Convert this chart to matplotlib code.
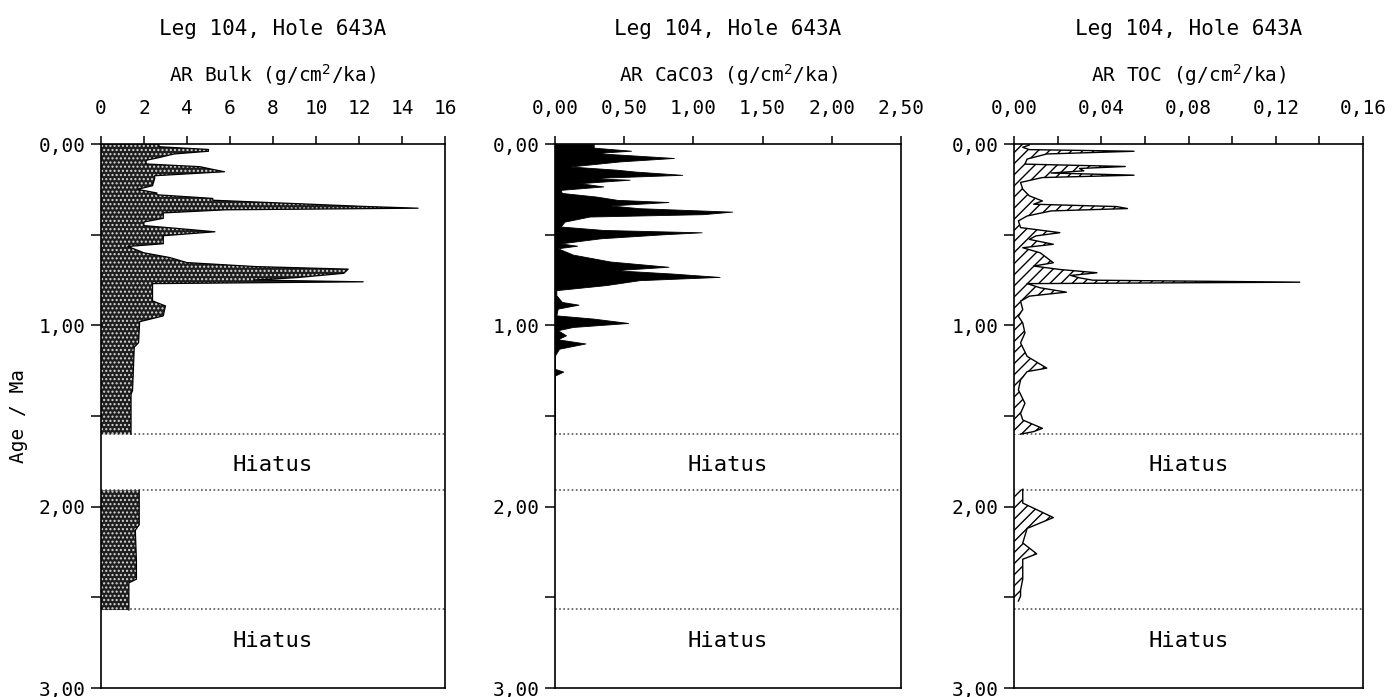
import numpy as np
import matplotlib.pyplot as plt
from matplotlib.ticker import FuncFormatter, MultipleLocator

plt.rcParams['font.family'] = ['DejaVu Sans Mono']
plt.rcParams['hatch.linewidth'] = 1.0

# AR Bulk (g/cm2/ka), age in Ma
bulk_age1 = [0.0, 0.015, 0.03, 0.04, 0.055, 0.075, 0.09, 0.11, 0.125, 0.14, 0.153, 0.175, 0.19,
             0.23, 0.25, 0.27, 0.28, 0.30, 0.31, 0.326, 0.344, 0.354, 0.363, 0.38, 0.41, 0.43,
             0.45, 0.465, 0.484, 0.506, 0.55, 0.565, 0.60, 0.626, 0.654, 0.676, 0.69, 0.713,
             0.737, 0.75, 0.76, 0.77, 0.80, 0.865, 0.893, 0.948, 0.98, 1.096, 1.12, 1.36, 1.38, 1.60]
bulk_val1 = [2.7, 2.7, 5.0, 5.0, 3.4, 2.7, 2.1, 2.1, 4.6, 5.2, 5.75, 2.5, 2.5,
             2.4, 1.7, 2.6, 2.6, 5.2, 5.2, 8.5, 12.2, 14.75, 5.8, 2.9, 2.9, 2.0,
             2.0, 3.5, 5.3, 2.9, 2.9, 1.25, 2.0, 3.2, 4.0, 7.2, 11.5, 11.3,
             9.1, 7.1, 12.2, 2.4, 2.4, 2.4, 3.0, 2.9, 1.8, 1.75, 1.55, 1.47, 1.4, 1.4]
bulk_age2 = [1.91, 2.10, 2.13, 2.30, 2.40, 2.42, 2.57]
bulk_val2 = [1.78, 1.78, 1.6, 1.65, 1.65, 1.3, 1.3]

# AR CaCO3 (g/cm2/ka)
caco3_age = [0.0, 0.02, 0.037, 0.05, 0.077, 0.096, 0.124, 0.142, 0.152, 0.17, 0.188, 0.197,
             0.216, 0.234, 0.253, 0.27, 0.29, 0.308, 0.32, 0.339, 0.354, 0.373, 0.387, 0.40,
             0.428, 0.455, 0.474, 0.487, 0.498, 0.52, 0.548, 0.561, 0.575, 0.61, 0.648, 0.677,
             0.696, 0.714, 0.733, 0.751, 0.778, 0.806, 0.834, 0.871, 0.886, 0.908, 0.945, 0.963,
             0.987, 1.009, 1.027, 1.055, 1.077, 1.10, 1.129, 1.166, 1.24, 1.255, 1.277, 1.60]
caco3_val = [0.28, 0.28, 0.55, 0.29, 0.86, 0.47, 0.11, 0.45, 0.58, 0.92, 0.25, 0.54,
             0.18, 0.35, 0.04, 0.05, 0.30, 0.45, 0.82, 0.40, 0.61, 1.28, 1.07, 0.25,
             0.07, 0.04, 0.35, 1.06, 0.78, 0.33, 0.04, 0.16, 0.02, 0.13, 0.40, 0.82,
             0.43, 0.84, 1.19, 0.61, 0.37, 0.01, 0.01, 0.05, 0.17, 0.02, 0.01, 0.28,
             0.53, 0.13, 0.02, 0.08, 0.02, 0.22, 0.03, 0.0, 0.0, 0.06, 0.0, 0.0]

# AR TOC (g/cm2/ka)
toc_age1 = [0.0, 0.006, 0.018, 0.031, 0.040, 0.055, 0.083, 0.111, 0.124, 0.135, 0.148, 0.16,
            0.172, 0.185, 0.212, 0.249, 0.286, 0.314, 0.332, 0.345, 0.356, 0.369, 0.397,
            0.424, 0.461, 0.489, 0.507, 0.526, 0.553, 0.572, 0.6, 0.627, 0.655, 0.673,
            0.692, 0.71, 0.725, 0.738, 0.751, 0.762, 0.770, 0.793, 0.817, 0.839, 0.867,
            0.913, 0.95, 0.987, 1.042, 1.097, 1.171, 1.236, 1.255, 1.301, 1.356, 1.43,
            1.485, 1.522, 1.568, 1.586, 1.60]
toc_val1 = [0.007, 0.007, 0.004, 0.007, 0.055, 0.015, 0.006, 0.005, 0.051, 0.030, 0.032, 0.017,
            0.055, 0.013, 0.003, 0.004, 0.007, 0.013, 0.009, 0.047, 0.052, 0.017, 0.006,
            0.002, 0.003, 0.021, 0.010, 0.007, 0.018, 0.004, 0.012, 0.015, 0.018, 0.009,
            0.021, 0.038, 0.026, 0.030, 0.036, 0.131, 0.006, 0.012, 0.024, 0.007, 0.003,
            0.004, 0.002, 0.004, 0.005, 0.003, 0.006, 0.015, 0.006, 0.003, 0.002, 0.005,
            0.003, 0.004, 0.013, 0.009, 0.003]
toc_age2 = [1.904, 1.98, 2.06, 2.12, 2.20, 2.26, 2.29, 2.40, 2.46, 2.494, 2.52]
toc_val2 = [0.004, 0.004, 0.018, 0.006, 0.004, 0.0104, 0.004, 0.004, 0.003, 0.003, 0.002]

hiatus_lines = [1.60, 1.91, 2.565]
hiatus_text_ages = [1.77, 2.74]

titles = ["AR Bulk (g/cm$^{2}$/ka)", "AR CaCO3 (g/cm$^{2}$/ka)", "AR TOC (g/cm$^{2}$/ka)"]
xlims = [16, 2.5, 0.16]
xmajor = [2, 0.5, 0.04]
xminor = [2, 0.5, 0.02]

fig = plt.figure(figsize=(14, 6.97), dpi=100)
lefts = [0.0721, 0.3964, 0.7243]
widths = [0.2457, 0.2471, 0.2493]
axes = [fig.add_axes([l, 0.0129, w, 0.7805]) for l, w in zip(lefts, widths)]

comma2 = FuncFormatter(lambda v, p: f"{v:.2f}".replace('.', ','))

for i, ax in enumerate(axes):
    ax.set_xlim(0, xlims[i])
    ax.set_ylim(3.0, 0.0)
    ax.xaxis.tick_top()
    ax.xaxis.set_major_locator(MultipleLocator(xmajor[i]))
    ax.xaxis.set_minor_locator(MultipleLocator(xminor[i]))
    ax.yaxis.set_major_locator(MultipleLocator(1.0))
    ax.yaxis.set_minor_locator(MultipleLocator(0.5))
    ax.yaxis.set_major_formatter(comma2)
    if i == 0:
        ax.xaxis.set_major_formatter(FuncFormatter(lambda v, p: f"{v:.0f}"))
    else:
        ax.xaxis.set_major_formatter(comma2)
    ax.tick_params(axis='both', which='both', direction='out', width=1.1, labelsize=14)
    ax.tick_params(axis='x', which='both', length=6, pad=13)
    ax.tick_params(axis='y', which='both', length=7, pad=4)
    for s in ax.spines.values():
        s.set_linewidth(1.2)
    for h in hiatus_lines:
        ax.axhline(h, color='#555555', linestyle=(0, (1, 1.5)), linewidth=1.2, zorder=1)
    for ha in hiatus_text_ages:
        ax.text(0.5, ha, "Hiatus", transform=ax.get_yaxis_transform(), ha='center',
                va='center', fontsize=16)
    ax.text(0.5, 1.212, "Leg 104, Hole 643A", transform=ax.transAxes, ha='center',
            va='center', fontsize=15)
    ax.text(0.5, 1.126, titles[i], transform=ax.transAxes, ha='center',
            va='center', fontsize=14)

# Bulk
ax = axes[0]
for ag, vl in [(bulk_age1, bulk_val1), (bulk_age2, bulk_val2)]:
    ax.fill_betweenx(ag, 0, vl, facecolor='#1e1e1e', hatch='....', edgecolor='#d8d8d8',
                     linewidth=0, zorder=2)
    ax.plot(vl, ag, color='black', linewidth=0.9, zorder=3)
ax.set_ylabel("Age / Ma", fontsize=14, labelpad=8)

# CaCO3
ax = axes[1]
ax.fill_betweenx(caco3_age, 0, caco3_val, facecolor='black', edgecolor='black',
                 linewidth=0.6, zorder=2)

# TOC
ax = axes[2]
for ag, vl in [(toc_age1, toc_val1), (toc_age2, toc_val2)]:
    ax.fill_betweenx(ag, 0, vl, facecolor='white', hatch='///', edgecolor='black',
                     linewidth=0, zorder=2)
    ax.plot(vl, ag, color='black', linewidth=1.0, zorder=3)

fig.savefig("out.png", dpi=100)
